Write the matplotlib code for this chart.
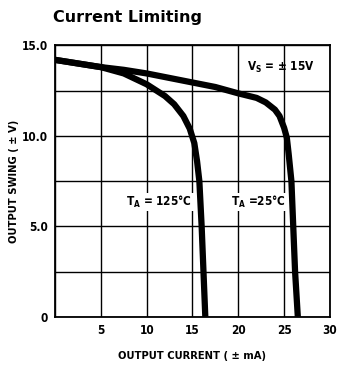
import matplotlib
matplotlib.use("Agg")
import matplotlib.pyplot as plt

# Data
i_25 = [0, 2.5, 5, 7.5, 10, 12.5, 15, 17.5, 20, 22.0, 23.0, 24.0, 24.5, 25.0, 25.3, 25.5, 25.8, 26.0, 26.2, 26.5]
v_25 = [14.2, 14.0, 13.8, 13.65, 13.45, 13.2, 12.95, 12.7, 12.35, 12.1, 11.85, 11.45, 11.1, 10.45, 9.9, 9.0, 7.5, 5.0, 2.5, 0.0]
i_125 = [0, 2.5, 5, 7.5, 10, 12.0, 13.0, 14.0, 14.7, 15.2, 15.5, 15.75, 16.0, 16.2, 16.4]
v_125 = [14.2, 14.0, 13.8, 13.45, 12.85, 12.2, 11.75, 11.1, 10.4, 9.6, 8.6, 7.5, 5.0, 2.5, 0.0]
x_ticks = [5, 10, 15, 20, 25, 30]
y_ticks = [0, 5, 10, 15]
y_tick_labels = ["0", "5.0", "10.0", "15.0"]

FK = dict(family="DejaVu Sans", stretch="condensed", weight="bold")

fig = plt.figure(figsize=(3.38, 3.66), dpi=100)
ax = fig.add_axes([0.163, 0.134, 0.813, 0.742])
ax.set_xlim(0, 30)
ax.set_ylim(0, 15)
ax.set_xticks([0, 5, 10, 15, 20, 25, 30])
ax.set_xticklabels([""] + [str(t) for t in x_ticks])
ax.set_yticks([0, 2.5, 5, 7.5, 10, 12.5, 15])
ax.set_yticklabels(["0", "", "5.0", "", "10.0", "", "15.0"])
ax.tick_params(length=0, labelsize=8.5, pad=5)
for lab in ax.get_xticklabels() + ax.get_yticklabels():
    lab.set_fontfamily(FK["family"])
    lab.set_fontstretch(FK["stretch"])
    lab.set_fontweight("bold")
ax.grid(True, color="black", linewidth=1.0)
for s in ax.spines.values():
    s.set_linewidth(1.3)

ax.plot(i_25, v_25, color="black", linewidth=4.5, solid_capstyle="butt", solid_joinstyle="round", zorder=3)
ax.plot(i_125, v_125, color="black", linewidth=4.5, solid_capstyle="butt", solid_joinstyle="round", zorder=3)

ax.text(24.6, 13.8, r"V$_\mathregular{S}$ = ± 15V", fontsize=8.5,
        ha="center", va="center", zorder=4, **FK)
ax.text(11.4, 6.35, r"T$_\mathregular{A}$ = 125°C", fontsize=8.5,
        ha="center", va="center", bbox=dict(facecolor="white", edgecolor="none", pad=1), zorder=4, **FK)
ax.text(22.2, 6.35, r"T$_\mathregular{A}$ =25°C", fontsize=8.5,
        ha="center", va="center", bbox=dict(facecolor="white", edgecolor="none", pad=1), zorder=4, **FK)

fig.text(0.157, 0.953, "Current Limiting", family="DejaVu Sans", weight="bold", fontsize=11.5,
         ha="left", va="center")
ax.set_xlabel("OUTPUT CURRENT ( ± mA)", fontsize=8, labelpad=10, **FK)
ax.set_ylabel("OUTPUT SWING ( ± V)", fontsize=8, labelpad=2, **FK)

fig.savefig("out.png", dpi=100)
